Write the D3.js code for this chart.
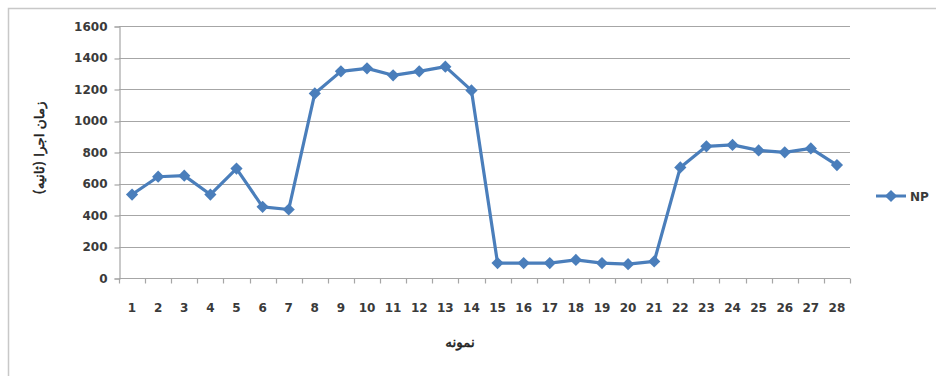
<!DOCTYPE html>
<html>
<head>
<meta charset="utf-8">
<script src="https://cdn.jsdelivr.net/npm/d3@7"></script>
<style>
  html, body { margin: 0; padding: 0; background: #fff; }
  svg { display: block; }
  text { font-family: "DejaVu Sans", sans-serif; }
</style>
</head>
<body>
<div id="chart"></div>
<script>
// Execution time per sample for the NP series
const samples = d3.range(1, 29).map(String);
const npValues = [530, 643, 650, 530, 695, 452, 435, 1172, 1312, 1331, 1287, 1312, 1342, 1191,
                  95, 95, 95, 115, 95, 88, 105, 702, 836, 845, 810, 798, 823, 717];
const yTicks = [0, 200, 400, 600, 800, 1000, 1200, 1400, 1600];
const seriesName = "NP";
const yTitle = "زمان اجرا (ثانیه)";
const xTitle = "نمونه";

const W = 936, H = 376;
const plot = { left: 119, right: 850, top: 26, bottom: 278 };
const blue = "#4a7ebb";
const grid = "#a6a6a6";
const labelColor = "#3a3a3a";

const svg = d3.select("#chart").append("svg")
  .attr("width", W).attr("height", H);

// chart frame
svg.append("path")
  .attr("d", `M8.5,${H} V8.5 H${W}`)
  .attr("fill", "none").attr("stroke", "#c8c8c8").attr("stroke-width", 1.5);

const x = d3.scaleBand().domain(samples).range([plot.left, plot.right]);
const y = d3.scaleLinear().domain([0, 1600]).range([plot.bottom, plot.top]);

// horizontal gridlines
svg.append("g").selectAll("line").data(yTicks.filter(d => d > 0)).join("line")
  .attr("x1", plot.left).attr("x2", plot.right)
  .attr("y1", d => Math.round(y(d)) + 0.5).attr("y2", d => Math.round(y(d)) + 0.5)
  .attr("stroke", grid).attr("stroke-width", 1.2);

// y axis
const yAxis = svg.append("g")
  .attr("transform", `translate(${plot.left + 0.5},0.5)`)
  .call(d3.axisLeft(y).tickValues(yTicks).tickSize(5).tickPadding(7).tickFormat(d3.format("d")));
yAxis.select(".domain").attr("stroke", grid).attr("stroke-width", 1.2);
yAxis.selectAll(".tick line").attr("stroke", grid).attr("stroke-width", 1.2)
  .attr("transform", d => `translate(0,${Math.round(y(d)) - y(d)})`);
yAxis.selectAll(".tick text")
  .attr("fill", labelColor).style("font-size", "12px").style("font-weight", "bold");

// x axis with ticks at the category boundaries
const xAxisG = svg.append("g").attr("transform", `translate(0,${plot.bottom + 0.5})`);
xAxisG.append("line")
  .attr("x1", plot.left).attr("x2", plot.right)
  .attr("stroke", grid).attr("stroke-width", 1.2);
const bounds = samples.map(s => x(s)).concat([x(samples[samples.length - 1]) + x.bandwidth()]);
xAxisG.selectAll("line.tk").data(bounds).join("line").attr("class", "tk")
  .attr("x1", d => Math.round(d) + 0.5).attr("x2", d => Math.round(d) + 0.5)
  .attr("y1", 0).attr("y2", 5)
  .attr("stroke", grid).attr("stroke-width", 1.2);
xAxisG.selectAll("text").data(samples).join("text")
  .attr("x", d => x(d) + x.bandwidth() / 2)
  .attr("y", 33)
  .attr("text-anchor", "middle")
  .attr("fill", labelColor)
  .style("font-size", "12px").style("font-weight", "bold")
  .text(d => d);

// series line
const pts = samples.map((s, i) => [x(s) + x.bandwidth() / 2, y(npValues[i])]);
svg.append("path")
  .attr("d", d3.line()(pts))
  .attr("fill", "none").attr("stroke", blue).attr("stroke-width", 3.2)
  .attr("stroke-linejoin", "round");

// diamond markers
const diamond = d3.symbol().type(d3.symbolDiamond2).size(95);
svg.append("g").selectAll("path").data(pts).join("path")
  .attr("transform", d => `translate(${d[0]},${d[1]})`)
  .attr("d", diamond)
  .attr("fill", blue);

// axis titles (regular weight keeps the Arabic-script shaping; a thin stroke thickens it)
svg.append("text")
  .attr("transform", "translate(44,148) rotate(-90)")
  .attr("text-anchor", "middle")
  .attr("direction", "rtl")
  .attr("fill", "#222").attr("stroke", "#222").attr("stroke-width", 0.5)
  .style("font-size", "13.5px")
  .text(yTitle);

svg.append("text")
  .attr("x", 460).attr("y", 347)
  .attr("text-anchor", "middle")
  .attr("direction", "rtl")
  .attr("fill", "#222").attr("stroke", "#222").attr("stroke-width", 0.5)
  .style("font-size", "13.5px")
  .text(xTitle);

// legend
const lg = svg.append("g").attr("transform", "translate(876,196)");
lg.append("line").attr("x1", 0).attr("x2", 30).attr("stroke", blue).attr("stroke-width", 3);
lg.append("path").attr("transform", "translate(15,0)").attr("d", diamond).attr("fill", blue);
lg.append("text").attr("x", 34).attr("y", 4.5)
  .attr("fill", labelColor)
  .style("font-size", "12px").style("font-weight", "bold")
  .text(seriesName);
</script>
</body>
</html>
